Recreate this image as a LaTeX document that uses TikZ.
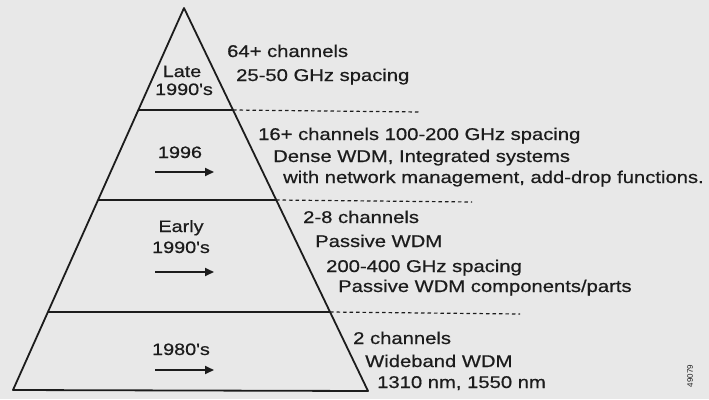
\documentclass[tikz,border=0pt]{standalone}
\usepackage{fontspec}
\setmainfont{Liberation Sans}
\newfontfamily\labfont[FakeStretch=1.19,FakeBold=0.6]{Liberation Sans}
\newfontfamily\yrfont[FakeStretch=1.2,FakeBold=0.6]{Liberation Sans}
\usetikzlibrary{arrows.meta}
\definecolor{bg}{RGB}{232,232,232}
\definecolor{ink}{RGB}{28,28,28}
\begin{document}
\begin{tikzpicture}[x=1pt,y=-1pt,
  tri/.style={draw=ink,line width=1.8pt,line join=round},
  divider/.style={draw=ink,line width=1.6pt},
  dashline/.style={draw=ink,line width=1.2pt,dash pattern=on 3.5pt off 3pt},
  txt/.style={anchor=base west,inner sep=0pt,text=ink,font=\labfont\fontsize{17}{20}\selectfont},
  yr/.style={anchor=base,inner sep=0pt,text=ink,font=\yrfont\fontsize{16.5}{20}\selectfont},
  timearrow/.style={draw=ink,line width=1.8pt,-{Triangle[length=9pt,width=8pt]}}]
\fill[bg] (0,0) rectangle (709,399);
\useasboundingbox (0,0) rectangle (709,399);
% pyramid corners
\coordinate (apex) at (184,8);
\coordinate (bl) at (13,390);
\coordinate (br) at (368,391);
\draw[tri] (bl) -- (apex) -- (br) -- cycle;
% dividers
\coordinate (d1l) at (138,110); \coordinate (d1r) at (233,110); \coordinate (d1e) at (420,112);
\coordinate (d2l) at (98,200);  \coordinate (d2r) at (276,200); \coordinate (d2e) at (472,202);
\coordinate (d3l) at (48,312);  \coordinate (d3r) at (330,312); \coordinate (d3e) at (520,314);
\draw[divider] (d1l) -- (d1r);
\draw[divider] (d2l) -- (d2r);
\draw[divider] (d3l) -- (d3r);
\draw[dashline] (d1r) -- (d1e);
\draw[dashline] (d2r) -- (d2e);
\draw[dashline] (d3r) -- (d3e);
% year labels
\node[yr] (late) at (182,77) {Late};
\node[yr] (late2) at (184,95) {1990's};
\node[yr] (y96) at (180,158) {1996};
\node[yr] (early) at (181,232) {Early};
\node[yr] (early2) at (181,253) {1990's};
\node[yr] (y80) at (181,355) {1980's};
% arrows
\coordinate (a1s) at (155,172); \coordinate (a1e) at (214,172);
\coordinate (a2s) at (155,272); \coordinate (a2e) at (214,272);
\coordinate (a3s) at (155,370); \coordinate (a3e) at (214,370);
\draw[timearrow] (a1s) -- (a1e);
\draw[timearrow] (a2s) -- (a2e);
\draw[timearrow] (a3s) -- (a3e);
% right texts
\node[txt] (t1) at (227,57) {64+ channels};
\node[txt] (t2) at (236,81) {25-50 GHz spacing};
\node[txt] (t3) at (258,140) {16+ channels 100-200 GHz spacing};
\node[txt] (t4) at (273,162) {Dense WDM, Integrated systems};
\node[txt] (t5) at (283,183) {with network management, add-drop functions.};
\node[txt] (t6) at (303,223) {2-8 channels};
\node[txt] (t7) at (315,247) {Passive WDM};
\node[txt] (t8) at (326,272) {200-400 GHz spacing};
\node[txt] (t9) at (338,292) {Passive WDM components/parts};
\node[txt] (t10) at (353,344) {2 channels};
\node[txt] (t11) at (365,367) {Wideband WDM};
\node[txt] (t12) at (377,388) {1310 nm, 1550 nm};
% figure number
\node[rotate=90,inner sep=0pt,text=ink,font=\fontsize{8}{9}\selectfont] (fig) at (690,376) {49079};
\end{tikzpicture}
\end{document}
